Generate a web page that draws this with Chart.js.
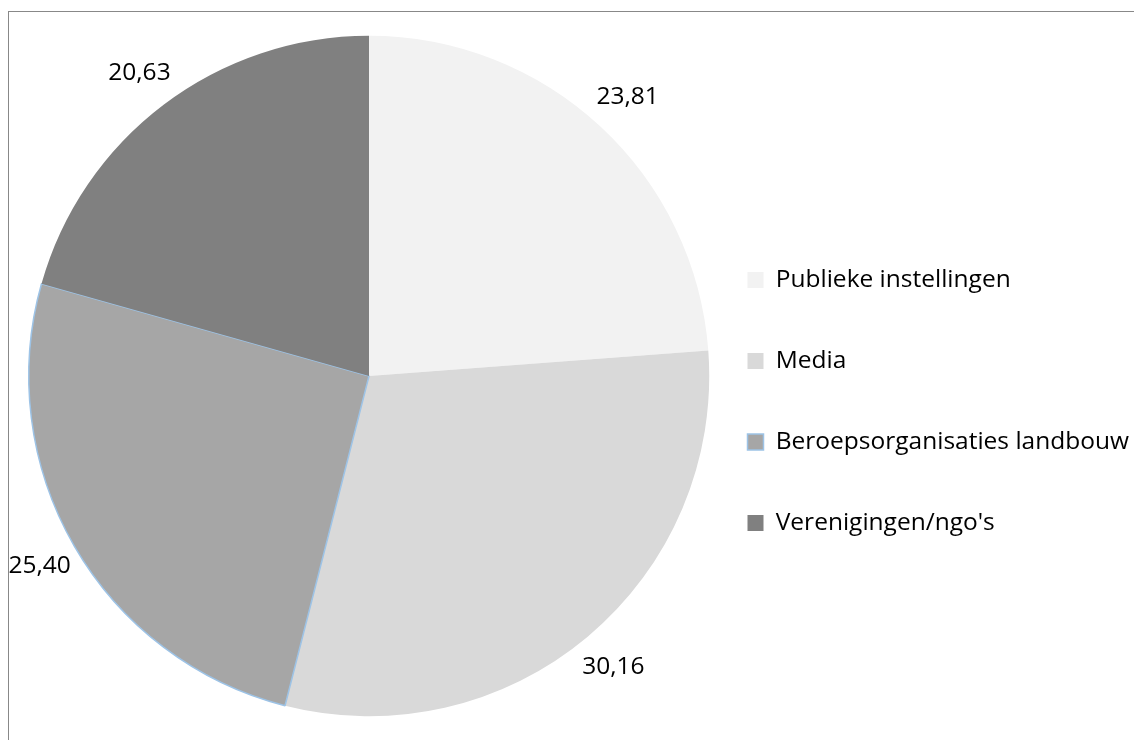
<!DOCTYPE html>
<html><head><meta charset="utf-8">
<script src="https://cdn.jsdelivr.net/npm/chart.js@4.4.0/dist/chart.umd.min.js"></script>
<style>
html,body{margin:0;padding:0;background:#fff;overflow:hidden;}
#wrap{position:relative;width:1134px;height:740px;overflow:hidden;}
#frame{position:absolute;left:8px;top:11px;width:1300px;height:900px;border:1.5px solid #888;box-sizing:border-box;}
canvas{position:absolute;left:0;top:0;}
</style></head><body>
<div id="wrap"><div id="frame"></div><canvas id="c" width="1134" height="740"></canvas></div>
<script>
const categories = ['Publieke instellingen', 'Media', 'Beroepsorganisaties landbouw', "Verenigingen/ngo's"];
const values = [23.81, 30.16, 25.40, 20.63];
const sliceColors = ['#f2f2f2', '#d9d9d9', '#a6a6a6', '#808080'];
const sliceBorderColors = ['#f2f2f2', '#d9d9d9', '#9dc3e6', '#808080'];
const sliceBorderWidths = [0, 0, 1.5, 0];

const FONT = '"Open Sans", "Noto Sans", sans-serif';

const fmt = v => v.toFixed(2).replace('.', ',');

const outsideLabels = {
  id: 'outsideLabels',
  afterDatasetsDraw(chart) {
    const ctx = chart.ctx;
    const meta = chart.getDatasetMeta(0);
    ctx.save();
    ctx.font = '24.5px ' + FONT;
    ctx.fillStyle = '#000';
    ctx.textAlign = 'center';
    ctx.textBaseline = 'middle';
    meta.data.forEach((arc, i) => {
      const p = arc.getProps(['x', 'y', 'startAngle', 'endAngle', 'outerRadius'], true);
      const mid = (p.startAngle + p.endAngle) / 2;
      const r = p.outerRadius + 40;
      ctx.fillText(fmt(values[i]), p.x + Math.cos(mid) * r, p.y + Math.sin(mid) * r);
    });
    ctx.restore();
  }
};

const legendShift = {
  id: 'legendShift',
  afterLayout(chart) {
    const lg = chart.legend;
    lg.left -= 19;
    lg.right = chart.width;
    lg.top += 25.5; lg.bottom += 25.5;
  }
};

new Chart(document.getElementById('c'), {
  type: 'pie',
  data: {
    labels: categories,
    datasets: [{
      data: values,
      backgroundColor: sliceColors,
      borderColor: sliceBorderColors,
      borderWidth: sliceBorderWidths
    }]
  },
  options: {
    responsive: false,
    animation: false,
    events: [],
    layout: { padding: { left: 28, right: 28, top: 35, bottom: 23 } },
    plugins: {
      tooltip: { enabled: false },
      legend: {
        position: 'right',
        maxWidth: 396,
        labels: {
          font: { family: FONT, size: 24.5 },
          color: '#000',
          boxWidth: 16,
          boxHeight: 16,
          padding: 56.5
        }
      }
    }
  },
  plugins: [outsideLabels, legendShift]
});
</script>
</body></html>
